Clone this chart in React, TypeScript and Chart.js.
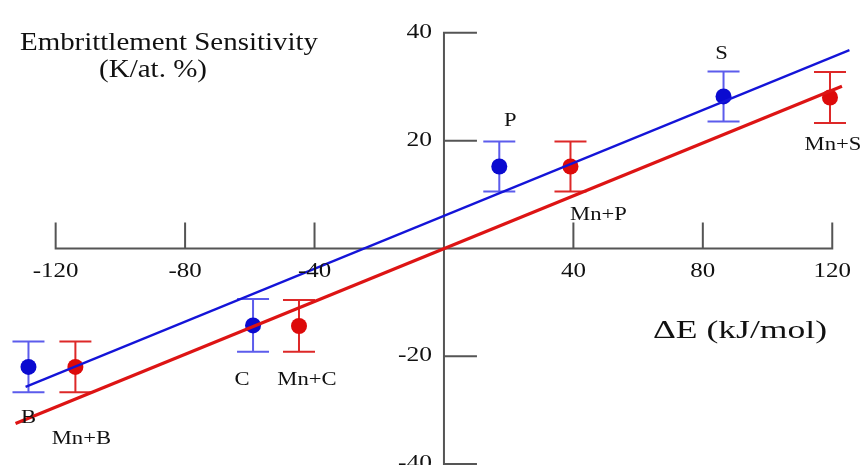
import React, { useEffect, useRef } from "react";
import { Chart, registerables } from "chart.js";
Chart.register(...registerables);

// ---- data ----
const pureLabels = ["B", "C", "P", "S"];
const pureX = [-128.4, -59.0, 17.1, 86.4];
const pureY = [-22.0, -14.3, 15.2, 28.2];
const pureErr = [4.7, 4.9, 4.65, 4.65];

const mnLabels = ["Mn+B", "Mn+C", "Mn+P", "Mn+S"];
const mnX = [-113.9, -44.8, 39.1, 119.3];
const mnY = [-22.0, -14.4, 15.2, 28.0];
const mnErr = [4.7, 4.8, 4.65, 4.75];

const pureFitX = [-129.3, 125.3];
const pureFitY = [-25.7, 36.8];
const mnFitX = [-132.4, 123.0];
const mnFitY = [-32.5, 30.1];

const xTicks = [-120, -80, -40, 40, 80, 120];
const yTicks = [-40, -20, 20, 40];

const titleLine1 = "Embrittlement Sensitivity";
const titleLine2 = "(K/at. %)";
const xTitle = "\u0394E (kJ/mol)";

// ---- styles ----
const BLUE = "#0a0ad0";
const BLUE_LINE = "#1414d8";
const BLUE_ERR = "#5c5cec";
const RED = "#dd0a0a";
const RED_LINE = "#dd1414";
const RED_ERR = "#dd2828";
const AXIS = "#555555";
const TEXT = "#111111";
const FONT = '"Liberation Serif", "Times New Roman", Tinos, serif';

function drawText(
  ctx: CanvasRenderingContext2D,
  str: string,
  px: number,
  py: number,
  size: number,
  align: "left" | "center" | "right",
  sx: number,
  targetWidth?: number
) {
  ctx.save();
  ctx.font = `${size}px ${FONT}`;
  ctx.fillStyle = TEXT;
  ctx.textBaseline = "alphabetic";
  const w = ctx.measureText(str).width;
  const scale = targetWidth ? targetWidth / w : sx;
  const fullW = w * scale;
  let left = px;
  if (align === "center") left = px - fullW / 2;
  if (align === "right") left = px - fullW;
  ctx.translate(left, py);
  ctx.scale(scale, 1);
  ctx.textAlign = "left";
  ctx.fillText(str, 0, 0);
  ctx.restore();
}

const pureLabelOffsets = [
  [0, 56],
  [-11, 60],
  [11, -40],
  [-2, -37],
];
const mnLabelOffsets = [
  [6, 77],
  [8, 59],
  [28, 54],
  [3, 52],
];

const customPlugin = {
  id: "customDraw",
  beforeDatasetsDraw(chart: any) {
    const { ctx, scales } = chart;
    const x = scales.x;
    const y = scales.y;
    const x0 = x.getPixelForValue(0);
    const y0 = y.getPixelForValue(0);
    ctx.save();
    ctx.strokeStyle = AXIS;
    ctx.lineWidth = 2;
    ctx.lineCap = "butt";
    ctx.beginPath();
    ctx.moveTo(x.getPixelForValue(-120), y0);
    ctx.lineTo(x.getPixelForValue(120), y0);
    ctx.moveTo(x0, y.getPixelForValue(40));
    ctx.lineTo(x0, y.getPixelForValue(-40) + 2);
    for (const t of xTicks) {
      const px = x.getPixelForValue(t);
      ctx.moveTo(px, y0 + 1);
      ctx.lineTo(px, y0 - 26);
    }
    for (const t of yTicks) {
      const py = y.getPixelForValue(t);
      ctx.moveTo(x0 - 1, py);
      ctx.lineTo(x0 + 33, py);
    }
    ctx.stroke();

    const drawErr = (xs: number[], ys: number[], es: number[], color: string) => {
      ctx.strokeStyle = color;
      ctx.lineWidth = 2;
      ctx.beginPath();
      for (let i = 0; i < xs.length; i++) {
        const px = x.getPixelForValue(xs[i]);
        const pt = y.getPixelForValue(ys[i] + es[i]);
        const pb = y.getPixelForValue(ys[i] - es[i]);
        ctx.moveTo(px, pt);
        ctx.lineTo(px, pb);
        ctx.moveTo(px - 16, pt);
        ctx.lineTo(px + 16, pt);
        ctx.moveTo(px - 16, pb);
        ctx.lineTo(px + 16, pb);
      }
      ctx.stroke();
    };
    drawErr(pureX, pureY, pureErr, BLUE_ERR);
    drawErr(mnX, mnY, mnErr, RED_ERR);
    ctx.restore();
  },
  afterDraw(chart: any) {
    const { ctx, scales } = chart;
    const x = scales.x;
    const y = scales.y;
    const x0 = x.getPixelForValue(0);
    const y0 = y.getPixelForValue(0);
    const SX = 1.16;
    for (const t of xTicks) {
      drawText(ctx, String(t), x.getPixelForValue(t), y0 + 29, 21.5, "center", SX);
    }
    for (const t of yTicks) {
      drawText(ctx, String(t), x0 - 12, y.getPixelForValue(t) + 5, 22, "right", SX);
    }
    drawText(ctx, titleLine1, 20, 50, 25, "left", SX, 298);
    drawText(ctx, titleLine2, 99, 77, 25, "left", SX, 108);
    drawText(ctx, xTitle, 653, 338, 25, "left", SX, 174);
    for (let i = 0; i < pureLabels.length; i++) {
      const px = x.getPixelForValue(pureX[i]) + pureLabelOffsets[i][0];
      const py = y.getPixelForValue(pureY[i]) + pureLabelOffsets[i][1];
      drawText(ctx, pureLabels[i], px, py, 19.5, "center", SX);
    }
    for (let i = 0; i < mnLabels.length; i++) {
      const px = x.getPixelForValue(mnX[i]) + mnLabelOffsets[i][0];
      const py = y.getPixelForValue(mnY[i]) + mnLabelOffsets[i][1];
      drawText(ctx, mnLabels[i], px, py, 19.5, "center", SX);
    }
  },
};

export default function App() {
  const ref = useRef<HTMLCanvasElement | null>(null);
  useEffect(() => {
    if (!ref.current) return;
    const toPts = (xs: number[], ys: number[]) => xs.map((v, i) => ({ x: v, y: ys[i] }));
    const chart = new Chart(ref.current, {
      type: "scatter",
      data: {
        datasets: [
          {
            label: "pure fit",
            data: toPts(pureFitX, pureFitY),
            showLine: true,
            borderColor: BLUE_LINE,
            borderWidth: 2.2,
            pointRadius: 0,
            clip: false,
            order: 0,
          } as any,
          {
            label: "Mn fit",
            data: toPts(mnFitX, mnFitY),
            showLine: true,
            borderColor: RED_LINE,
            borderWidth: 3.2,
            pointRadius: 0,
            clip: false,
            order: 0,
          } as any,
          {
            label: "pure",
            data: toPts(pureX, pureY),
            pointRadius: 8,
            pointBackgroundColor: BLUE,
            pointBorderWidth: 0,
            borderWidth: 0,
            clip: false,
            order: 1,
          } as any,
          {
            label: "Mn",
            data: toPts(mnX, mnY),
            pointRadius: 8,
            pointBackgroundColor: RED,
            pointBorderWidth: 0,
            borderWidth: 0,
            clip: false,
            order: 1,
          } as any,
        ],
      },
      options: {
        responsive: false,
        animation: false,
        devicePixelRatio: 1,
        layout: { padding: 0, autoPadding: false },
        plugins: { legend: { display: false }, tooltip: { enabled: false }, title: { display: false } },
        scales: {
          x: { type: "linear", min: -137.2, max: 129.5, display: false },
          y: { type: "linear", min: -40.2, max: 46.1, display: false },
        },
      },
      plugins: [customPlugin],
    });
    let alive = true;
    if ((document as any).fonts && (document as any).fonts.load) {
      (document as any).fonts
        .load('25px "Liberation Serif"')
        .then(() => {
          if (alive) chart.update();
        })
        .catch(() => {});
    }
    return () => {
      alive = false;
      chart.destroy();
    };
  }, []);
  return (
    <div style={{ position: "fixed", left: 0, top: 0, width: 863, height: 465, background: "#fff" }}>
      <canvas ref={ref} width={863} height={465} style={{ display: "block" }} />
      <span
        aria-hidden="true"
        style={{ position: "absolute", left: -9999, top: 0, fontFamily: '"Liberation Serif"', fontSize: 25 }}
      >
        Ab
      </span>
    </div>
  );
}
